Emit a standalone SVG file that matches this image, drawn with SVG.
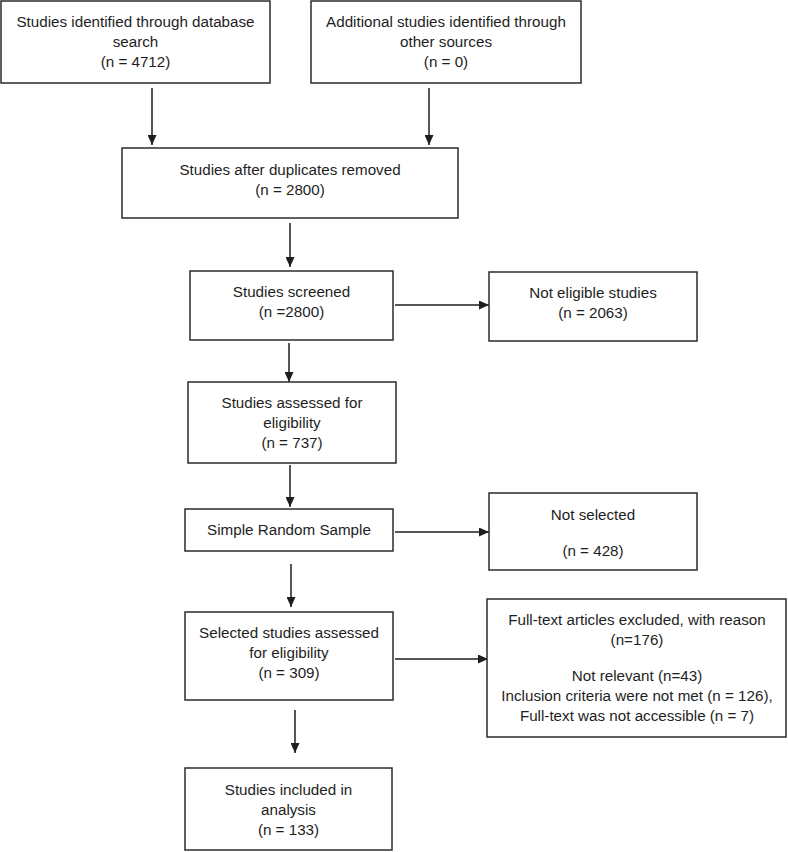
<svg xmlns="http://www.w3.org/2000/svg" width="788" height="852" viewBox="0 0 788 852">
<style>
  .box { fill: #ffffff; stroke: #2b2b2b; stroke-width: 1.5; }
  .t { font-family: "Liberation Sans", Arial, Helvetica, sans-serif; font-size: 15.2px; fill: #1e1e1e; text-anchor: middle; }
  .conn { stroke: #1e1e1e; stroke-width: 1.5; fill: none; marker-end: url(#arrow); }
</style>
<defs>
  <marker id="arrow" viewBox="0 0 10 9" refX="10" refY="4.5" markerWidth="10" markerHeight="9" markerUnits="userSpaceOnUse" orient="auto">
    <path d="M0,0 L10,4.5 L0,9 z" fill="#1e1e1e"/>
  </marker>
</defs>
<rect width="788" height="852" fill="#ffffff"/>
<g id="connectors">
  <line class="conn" x1="152" y1="88" x2="152" y2="145"/>
  <line class="conn" x1="429" y1="88" x2="429" y2="145"/>
  <line class="conn" x1="290" y1="223" x2="290" y2="267"/>
  <line class="conn" x1="395" y1="305" x2="489" y2="305"/>
  <line class="conn" x1="289" y1="343" x2="289" y2="382"/>
  <line class="conn" x1="290" y1="465" x2="290" y2="507"/>
  <line class="conn" x1="395" y1="532" x2="489" y2="532"/>
  <line class="conn" x1="291" y1="564" x2="291" y2="607"/>
  <line class="conn" x1="395" y1="659" x2="488" y2="659"/>
  <line class="conn" x1="295" y1="710" x2="295" y2="753"/>
</g>
<g id="n1">
  <rect class="box" x="1" y="1" width="269" height="82"/>
  <text class="t" x="135.5" y="27">Studies identified through database</text>
  <text class="t" x="135.5" y="47">search</text>
  <text class="t" x="135.5" y="67">(n = 4712)</text>
</g>
<g id="n2">
  <rect class="box" x="311" y="1" width="270" height="82"/>
  <text class="t" x="446" y="27">Additional studies identified through</text>
  <text class="t" x="446" y="47">other sources</text>
  <text class="t" x="446" y="67">(n = 0)</text>
</g>
<g id="n3">
  <rect class="box" x="122" y="148" width="336" height="70"/>
  <text class="t" x="290" y="175">Studies after duplicates removed</text>
  <text class="t" x="290" y="195">(n = 2800)</text>
</g>
<g id="n4">
  <rect class="box" x="190" y="271" width="203" height="69"/>
  <text class="t" x="291.5" y="297">Studies screened</text>
  <text class="t" x="291.5" y="317">(n =2800)</text>
</g>
<g id="n5">
  <rect class="box" x="489" y="272" width="208" height="69"/>
  <text class="t" x="593" y="298">Not eligible studies</text>
  <text class="t" x="593" y="318">(n = 2063)</text>
</g>
<g id="n6">
  <rect class="box" x="188" y="382" width="208" height="81"/>
  <text class="t" x="292" y="408">Studies assessed for</text>
  <text class="t" x="292" y="428">eligibility</text>
  <text class="t" x="292" y="448">(n = 737)</text>
</g>
<g id="n7">
  <rect class="box" x="185" y="509" width="208" height="42"/>
  <text class="t" x="289" y="535">Simple Random Sample</text>
</g>
<g id="n8">
  <rect class="box" x="489" y="493" width="208" height="77"/>
  <text class="t" x="593" y="520">Not selected</text>
  <text class="t" x="593" y="556">(n = 428)</text>
</g>
<g id="n9">
  <rect class="box" x="185" y="612" width="208" height="88"/>
  <text class="t" x="289" y="638">Selected studies assessed</text>
  <text class="t" x="289" y="658">for eligibility</text>
  <text class="t" x="289" y="678">(n = 309)</text>
</g>
<g id="n10">
  <rect class="box" x="487" y="599" width="299" height="138"/>
  <text class="t" x="637" y="625">Full-text articles excluded, with reason</text>
  <text class="t" x="637" y="645">(n=176)</text>
  <text class="t" x="637" y="681">Not relevant (n=43)</text>
  <text class="t" x="637" y="701">Inclusion criteria were not met (n = 126),</text>
  <text class="t" x="637" y="721">Full-text was not accessible (n = 7)</text>
</g>
<g id="n11">
  <rect class="box" x="185" y="768" width="207" height="82"/>
  <text class="t" x="288.5" y="795">Studies included in</text>
  <text class="t" x="288.5" y="815">analysis</text>
  <text class="t" x="288.5" y="835">(n = 133)</text>
</g>
</svg>
